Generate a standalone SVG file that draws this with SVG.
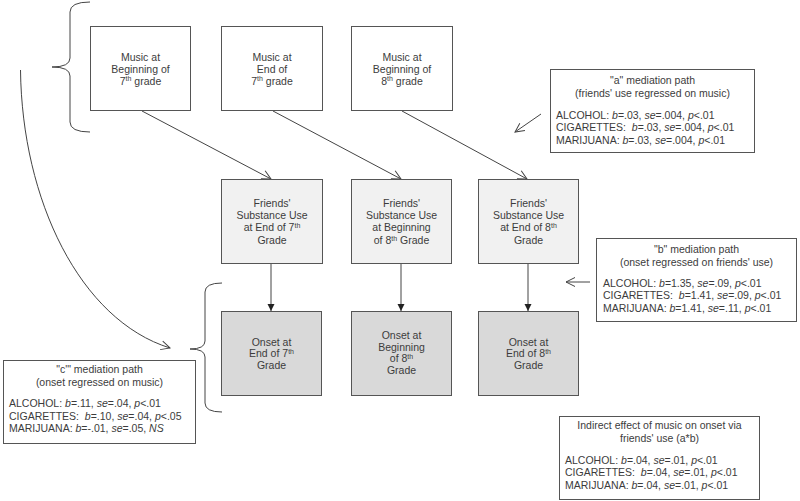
<svg xmlns="http://www.w3.org/2000/svg" width="800" height="501" viewBox="0 0 800 501">
<style>
text{font-family:"Liberation Sans",Arial,sans-serif;font-size:10.5px;fill:#3c3c3c}
.c{text-anchor:middle}
.i{font-style:italic}
.sup{font-size:7px}
.box{fill:#fff;stroke:#555;stroke-width:1}
.fr{fill:#f1f1f1;stroke:#555;stroke-width:1}
.on{fill:#d9d9d9;stroke:#555;stroke-width:1}
.ln{fill:none;stroke:#444;stroke-width:1}
</style>
<defs>
<marker id="tri" markerWidth="8" markerHeight="8" refX="7" refY="4" orient="auto" markerUnits="userSpaceOnUse">
<path d="M0,0.5 L7,4 L0,7.5 Z" fill="#222"/>
</marker>
<marker id="open" markerWidth="12" markerHeight="12" refX="10" refY="6" orient="auto" markerUnits="userSpaceOnUse">
<path d="M1,1.5 L10,6 L1,10.5" fill="none" stroke="#444" stroke-width="1"/>
</marker>
</defs>
<rect width="800" height="501" fill="#fff"/>

<g id="connectors">
<line class="ln" x1="142" y1="111" x2="271" y2="179" marker-end="url(#open)"/>
<line class="ln" x1="273" y1="111" x2="401" y2="179" marker-end="url(#open)"/>
<line class="ln" x1="402" y1="111" x2="527" y2="179" marker-end="url(#open)"/>
<line class="ln" x1="271" y1="263" x2="271" y2="311" marker-end="url(#tri)"/>
<line class="ln" x1="401" y1="263" x2="401" y2="311" marker-end="url(#tri)"/>
<line class="ln" x1="528" y1="263" x2="528" y2="311" marker-end="url(#tri)"/>
<line class="ln" x1="541" y1="114" x2="515" y2="132" marker-end="url(#open)"/>
<line class="ln" x1="590" y1="282" x2="566" y2="282" marker-end="url(#open)"/>
<path class="ln" d="M20.5 70 C22 200 80 320 170 348" marker-end="url(#open)"/>
<path class="ln" d="M90 2 Q70 2 70 12 L70 58 Q70 67 52 67 Q70 67 70 76 L70 122 Q70 132 90 132"/>
<path class="ln" d="M222 283 Q205 283 205 292 L205 341 Q205 349 190 349 Q205 349 205 357 L205 403 Q205 412 222 412"/>
</g>

<g id="music1">
<rect class="box" x="90.5" y="26.5" width="100" height="84"/>
<text class="c" x="140.5" y="60.5">Music at</text>
<text class="c" x="140.5" y="72.5">Beginning of</text>
<text class="c" x="140.5" y="84.5">7<tspan class="sup" dy="-3.5">th</tspan><tspan dy="3.5"> grade</tspan></text>
</g>
<g id="music2">
<rect class="box" x="221.5" y="26.5" width="101" height="84"/>
<text class="c" x="272" y="60.5">Music at</text>
<text class="c" x="272" y="72.5">End of</text>
<text class="c" x="272" y="84.5">7<tspan class="sup" dy="-3.5">th</tspan><tspan dy="3.5"> grade</tspan></text>
</g>
<g id="music3">
<rect class="box" x="351.5" y="26.5" width="101" height="84"/>
<text class="c" x="402" y="60.5">Music at</text>
<text class="c" x="402" y="72.5">Beginning of</text>
<text class="c" x="402" y="84.5">8<tspan class="sup" dy="-3.5">th</tspan><tspan dy="3.5"> grade</tspan></text>
</g>

<g id="friends1">
<rect class="fr" x="221.5" y="179.5" width="101" height="84"/>
<text class="c" x="272" y="207">Friends'</text>
<text class="c" x="272" y="219">Substance Use</text>
<text class="c" x="272" y="231">at End of 7<tspan class="sup" dy="-3.5">th</tspan></text>
<text class="c" x="272" y="244">Grade</text>
</g>
<g id="friends2">
<rect class="fr" x="351.5" y="179.5" width="100" height="84"/>
<text class="c" x="401.5" y="207">Friends'</text>
<text class="c" x="401.5" y="219">Substance Use</text>
<text class="c" x="401.5" y="231">at Beginning</text>
<text class="c" x="401.5" y="244">of 8<tspan class="sup" dy="-3.5">th</tspan><tspan dy="3.5"> Grade</tspan></text>
</g>
<g id="friends3">
<rect class="fr" x="478.5" y="179.5" width="100" height="84"/>
<text class="c" x="528.5" y="207">Friends'</text>
<text class="c" x="528.5" y="219">Substance Use</text>
<text class="c" x="528.5" y="231">at End of 8<tspan class="sup" dy="-3.5">th</tspan></text>
<text class="c" x="528.5" y="244">Grade</text>
</g>

<g id="onset1">
<rect class="on" x="221.5" y="311.5" width="100" height="84"/>
<text class="c" x="271.5" y="345.5">Onset at</text>
<text class="c" x="271.5" y="357">End of 7<tspan class="sup" dy="-3.5">th</tspan></text>
<text class="c" x="271.5" y="368.5">Grade</text>
</g>
<g id="onset2">
<rect class="on" x="351.5" y="311.5" width="100" height="84"/>
<text class="c" x="401.5" y="339">Onset at</text>
<text class="c" x="401.5" y="350.5">Beginning</text>
<text class="c" x="401.5" y="362">of 8<tspan class="sup" dy="-3.5">th</tspan></text>
<text class="c" x="401.5" y="374">Grade</text>
</g>
<g id="onset3">
<rect class="on" x="478.5" y="311.5" width="100" height="84"/>
<text class="c" x="528.5" y="345.5">Onset at</text>
<text class="c" x="528.5" y="357">End of 8<tspan class="sup" dy="-3.5">th</tspan></text>
<text class="c" x="528.5" y="368.5">Grade</text>
</g>

<g id="a-path">
<rect class="box" x="550.5" y="69.5" width="204" height="83"/>
<text class="c" x="652.5" y="84">"a" mediation path</text>
<text class="c" x="652.5" y="97">(friends' use regressed on music)</text>
<text x="556" y="119" xml:space="preserve">ALCOHOL: <tspan class="i">b</tspan>=.03, <tspan class="i">se</tspan>=.004, <tspan class="i">p</tspan>&lt;.01</text>
<text x="556" y="131" xml:space="preserve">CIGARETTES:  <tspan class="i">b</tspan>=.03, <tspan class="i">se</tspan>=.004, <tspan class="i">p</tspan>&lt;.01</text>
<text x="556" y="143.5" xml:space="preserve">MARIJUANA: <tspan class="i">b</tspan>=.03, <tspan class="i">se</tspan>=.004, <tspan class="i">p</tspan>&lt;.01</text>
</g>

<g id="b-path">
<rect class="box" x="596.5" y="238.5" width="200" height="83"/>
<text class="c" x="696.5" y="253">"b" mediation path</text>
<text class="c" x="696.5" y="265.5">(onset regressed on friends' use)</text>
<text x="603" y="287" xml:space="preserve">ALCOHOL: <tspan class="i">b</tspan>=1.35, <tspan class="i">se</tspan>=.09, <tspan class="i">p</tspan>&lt;.01</text>
<text x="603" y="299" xml:space="preserve">CIGARETTES:  <tspan class="i">b</tspan>=1.41, <tspan class="i">se</tspan>=.09, <tspan class="i">p</tspan>&lt;.01</text>
<text x="603" y="311.5" xml:space="preserve">MARIJUANA: <tspan class="i">b</tspan>=1.41, <tspan class="i">se</tspan>=.11, <tspan class="i">p</tspan>&lt;.01</text>
</g>

<g id="c-path">
<rect class="box" x="3.5" y="360.5" width="192" height="83"/>
<text class="c" x="99.5" y="373">"c'" mediation path</text>
<text class="c" x="99.5" y="385.5">(onset regressed on music)</text>
<text x="9" y="407" xml:space="preserve">ALCOHOL: <tspan class="i">b</tspan>=.11, <tspan class="i">se</tspan>=.04, <tspan class="i">p</tspan>&lt;.01</text>
<text x="9" y="419.5" xml:space="preserve">CIGARETTES:  <tspan class="i">b</tspan>=.10, <tspan class="i">se</tspan>=.04, <tspan class="i">p</tspan>&lt;.05</text>
<text x="9" y="432" xml:space="preserve">MARIJUANA: <tspan class="i">b</tspan>=-.01, <tspan class="i">se</tspan>=.05, <tspan class="i">NS</tspan></text>
</g>

<g id="indirect">
<rect class="box" x="559.5" y="416.5" width="200" height="83"/>
<text class="c" x="659.5" y="429">Indirect effect of music on onset via</text>
<text class="c" x="659.5" y="441.5">friends' use (a*b)</text>
<text x="565" y="464" xml:space="preserve">ALCOHOL: <tspan class="i">b</tspan>=.04, <tspan class="i">se</tspan>=.01, <tspan class="i">p</tspan>&lt;.01</text>
<text x="565" y="476" xml:space="preserve">CIGARETTES:  <tspan class="i">b</tspan>=.04, <tspan class="i">se</tspan>=.01, <tspan class="i">p</tspan>&lt;.01</text>
<text x="565" y="488.5" xml:space="preserve">MARIJUANA: <tspan class="i">b</tspan>=.04, <tspan class="i">se</tspan>=.01, <tspan class="i">p</tspan>&lt;.01</text>
</g>
</svg>
